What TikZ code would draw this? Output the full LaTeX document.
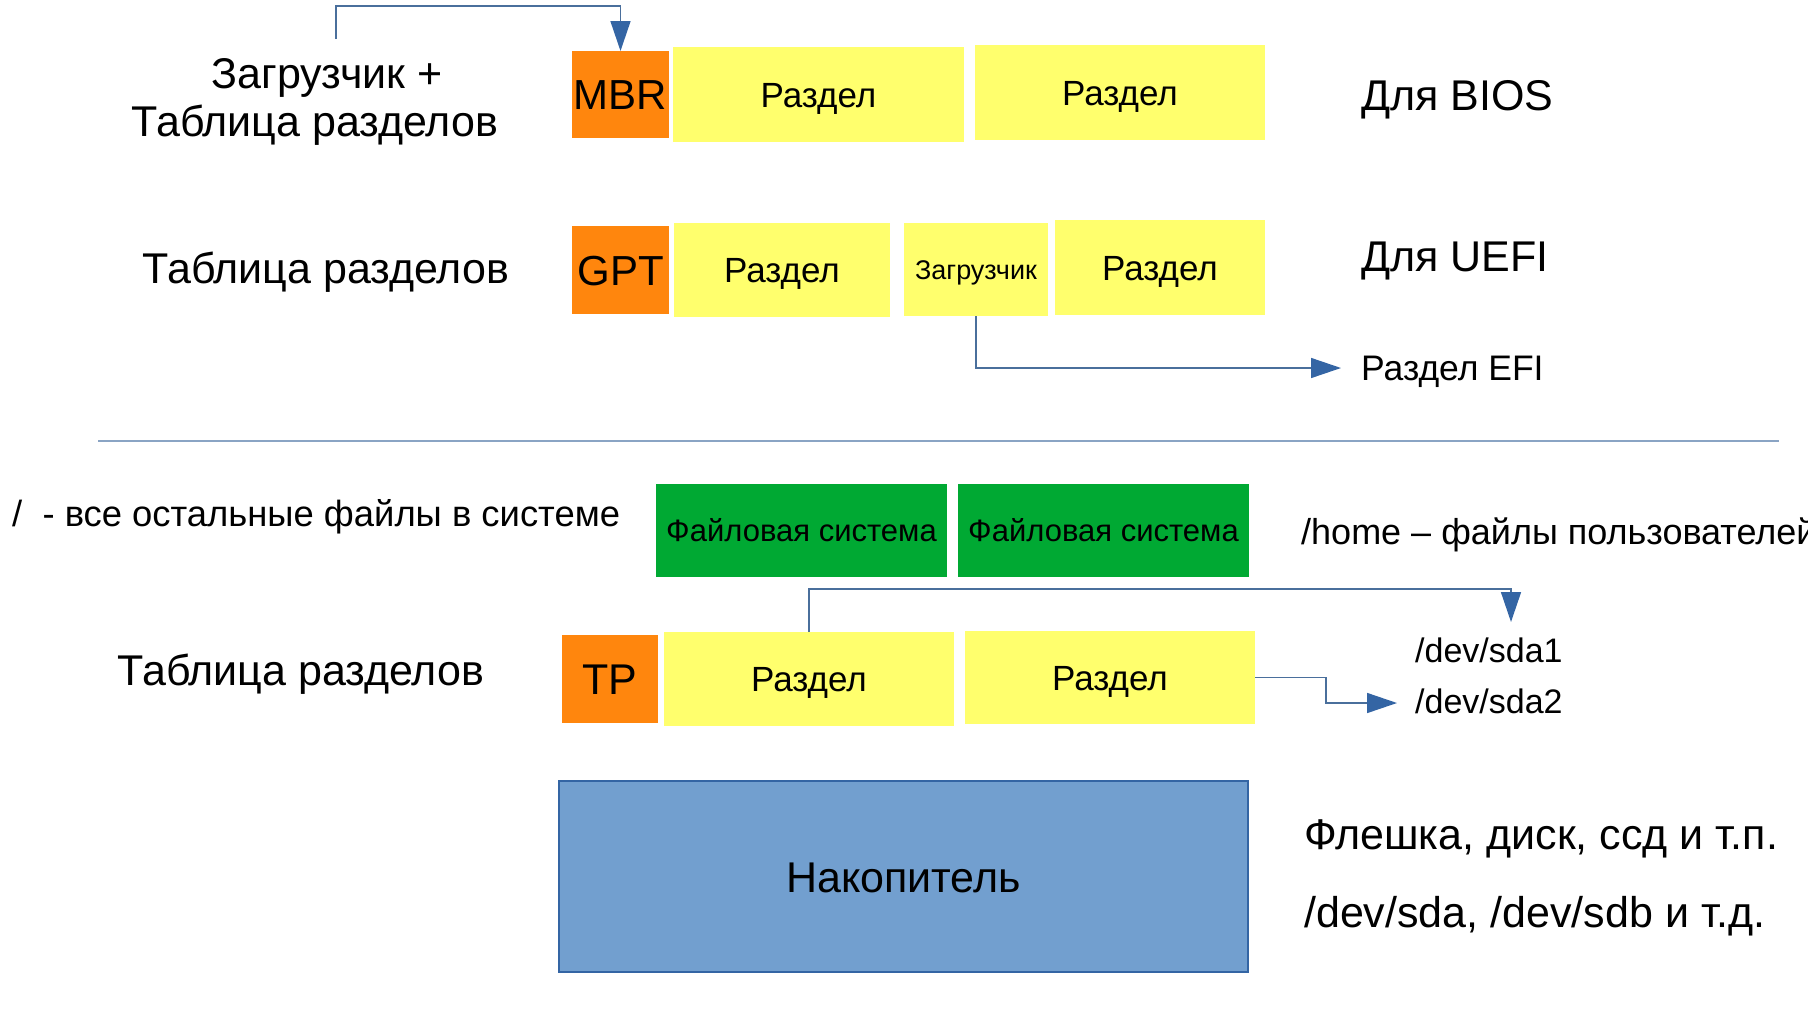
\documentclass[tikz,border=0pt]{standalone}
\usepackage{fontspec}
\setmainfont{Liberation Sans}
\usetikzlibrary{arrows.meta}
\definecolor{orng}{HTML}{FF860D}
\definecolor{yell}{HTML}{FFFF6D}
\definecolor{grn}{HTML}{00A933}
\definecolor{blu}{HTML}{729FCF}
\definecolor{dblu}{HTML}{3465A4}
\definecolor{conncol}{HTML}{4A6F9C}
\definecolor{sepcol}{HTML}{8AA4C4}
\tikzset{
  blk/.style={inner sep=0pt, outer sep=0pt, align=center, text=black, text depth=0pt},
  obox/.style={blk, fill=orng, font=\fontsize{42}{48}\selectfont, text height=30.2pt},
  ybox/.style={blk, fill=yell, font=\fontsize{35}{40}\selectfont, text height=25.2pt},
  gbox/.style={blk, fill=grn, font=\fontsize{31}{36}\selectfont, text height=22.3pt},
  big/.style={inner sep=0pt, font=\fontsize{43}{48}\selectfont, anchor=base},
  bigw/.style={inner sep=0pt, font=\fontsize{43}{48}\selectfont, anchor=base west},
  midw/.style={inner sep=0pt, font=\fontsize{35.5}{40}\selectfont, anchor=base west},
  conn/.style={draw=conncol, line width=1.5pt, -{Triangle[length=30pt, width=20pt, color=dblu, fill=dblu]}},
}
\begin{document}
\begin{tikzpicture}[x=1pt, y=-1pt]
\useasboundingbox (0,0) rectangle (1808,1031);
\clip (0,0) rectangle (1808,1031);

% Row 1: BIOS
\node[big] (l1a) at (327,88) {Загрузчик +};
\node[big] (l1b) at (315,136) {Таблица разделов};
\node[obox, minimum width=97pt, minimum height=87pt] (mbr) at (620.5,94.5) {MBR};
\node[ybox, minimum width=291pt, minimum height=95pt] (r1a) at (818.5,94.5) {Раздел};
\node[ybox, minimum width=290pt, minimum height=95pt] (r1b) at (1120,92.5) {Раздел};
\node[bigw] (bios) at (1361,110) {Для BIOS};

\coordinate (s1) at (336,39);
\coordinate (t1) at (620.5,6);
\draw[conn] (s1) |- (t1) -- (mbr.north);

% Row 2: UEFI
\node[big] (l2) at (326,283) {Таблица разделов};
\node[obox, minimum width=97pt, minimum height=88pt] (gpt) at (620.5,270) {GPT};
\node[ybox, minimum width=216pt, minimum height=94pt] (r2a) at (782,270) {Раздел};
\node[ybox, minimum width=144pt, minimum height=93pt, font=\fontsize{27}{32}\selectfont, text height=19.4pt] (boot) at (976,269.5) {Загрузчик};
\node[ybox, minimum width=210pt, minimum height=95pt] (r2b) at (1160,267.5) {Раздел};
\node[bigw] (uefi) at (1361,271) {Для UEFI};
\node[midw] (efi) at (1361,380) {Раздел EFI};

\coordinate (e1) at (1341,368);
\draw[conn] (boot.south) |- (e1);

% separator
\coordinate (sepL) at (98,441);
\coordinate (sepR) at (1779,441);
\draw[draw=sepcol, line width=2pt] (sepL) -- (sepR);

% Row 3: file systems
\node[midw, font=\fontsize{36.4}{40}\selectfont] (root) at (12,526) {/\ \ - все остальные файлы в системе};
\node[gbox, minimum width=291pt, minimum height=93pt] (fs1) at (801.5,530.5) {Файловая система};
\node[gbox, minimum width=291pt, minimum height=93pt] (fs2) at (1103.5,530.5) {Файловая система};
\node[midw, font=\fontsize{36}{40}\selectfont] (home) at (1301,544) {/home – файлы пользователей};

% Row 4: partitions
\node[big] (l4) at (301,685) {Таблица разделов};
\node[obox, minimum width=96pt, minimum height=88pt, font=\fontsize{43}{48}\selectfont, text height=31pt] (tp) at (610,679) {ТР};
\node[ybox, minimum width=290pt, minimum height=94pt] (r4a) at (809,679) {Раздел};
\node[ybox, minimum width=290pt, minimum height=93pt] (r4b) at (1110,677.5) {Раздел};
\node[midw, font=\fontsize{34}{40}\selectfont] (sda1) at (1415,662) {/dev/sda1};
\node[midw, font=\fontsize{34}{40}\selectfont] (sda2) at (1415,713) {/dev/sda2};

\coordinate (a1top) at (1511,589);
\coordinate (a1) at (1511,622);
\draw[conn] (r4a.north) |- (a1top) -- (a1);
\coordinate (m2) at (1326,690);
\coordinate (a2) at (1397,703);
\draw[conn] (r4b.east) -| (m2) |- (a2);

% Row 5: drive
\node[blk, fill=blu, draw=dblu, line width=1.5pt, minimum width=689pt, minimum height=191pt, font=\fontsize{43}{48}\selectfont, text height=31pt] (drive) at (903.5,876.5) {Накопитель};
\node[bigw] (dev1) at (1304,849) {Флешка, диск, ссд и т.п.};
\node[bigw] (dev2) at (1304,927) {/dev/sda, /dev/sdb и т.д.};
\end{tikzpicture}
\end{document}
